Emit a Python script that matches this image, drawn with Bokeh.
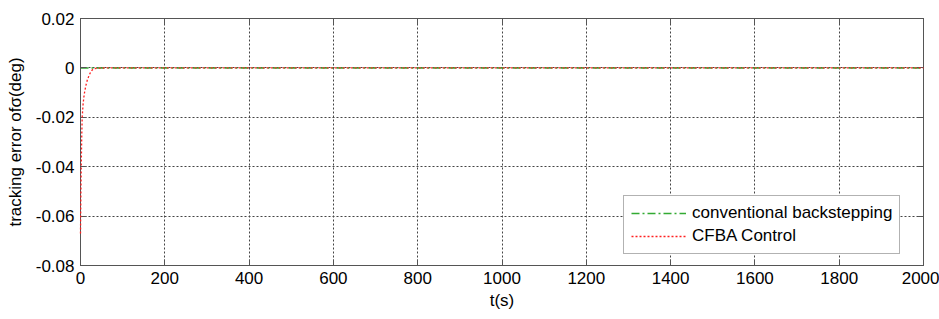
from bokeh.plotting import figure
from bokeh.models import FixedTicker, LinearAxis, Legend, LegendItem, Range1d
from bokeh.embed import file_html
from bokeh.resources import INLINE

# data
t_cfba = [0, 0.5, 1, 2, 3, 4, 6, 8, 10, 13, 16, 20, 24, 28, 32, 40, 60, 100, 2000]
e_cfba = [-0.067, -0.058, -0.05, -0.037, -0.027, -0.02, -0.015, -0.0118, -0.0095, -0.007,
          -0.005, -0.0032, -0.0017, -0.0008, -0.0003, -0.0001, 0.0, 0.0, 0.0]
t_conv = [0, 2000]
e_conv = [0.0, 0.0]

x_ticks = [0, 200, 400, 600, 800, 1000, 1200, 1400, 1600, 1800, 2000]
y_ticks = [-0.08, -0.06, -0.04, -0.02, 0, 0.02]
y_labels = ["-0.08", "-0.06", "-0.04", "-0.02", "0", "0.02"]

FONT = "Liberation Sans"
FS = "17px"

p = figure(width=939, height=319, output_backend="svg", toolbar_location=None,
           x_range=Range1d(0, 2000), y_range=Range1d(-0.08, 0.02),
           min_border_left=80, min_border_right=16, min_border_top=18, min_border_bottom=54)
p.background_fill_color = "white"
p.border_fill_color = "white"
p.outline_line_color = "#555555"
p.outline_line_width = 1

for ax in (p.xaxis[0], p.yaxis[0]):
    ax.major_label_text_font = FONT
    ax.major_label_text_font_size = FS
    ax.major_label_text_color = "black"
    ax.axis_label_text_font = FONT
    ax.axis_label_text_font_size = FS
    ax.axis_label_text_font_style = "normal"
    ax.axis_label_text_color = "black"
    ax.major_tick_in = 6
    ax.major_tick_out = 0
    ax.minor_tick_line_color = None
    ax.axis_line_color = "#555555"
    ax.major_tick_line_color = "#555555"

p.xaxis[0].ticker = FixedTicker(ticks=x_ticks)
p.yaxis[0].ticker = FixedTicker(ticks=y_ticks)
p.yaxis[0].major_label_overrides = {v: s for v, s in zip(y_ticks, y_labels)}
p.xaxis[0].axis_label = "t(s)"
p.yaxis[0].axis_label = "tracking error ofσ(deg)"
p.xaxis[0].major_label_standoff = 6
p.yaxis[0].major_label_standoff = 6
p.xaxis[0].axis_label_standoff = 4
p.yaxis[0].axis_label_standoff = 8

# ticks on top and right
top = LinearAxis(ticker=FixedTicker(ticks=x_ticks), major_label_text_font_size="0px",
                 major_tick_in=6, major_tick_out=0, minor_tick_line_color=None,
                 axis_line_color="#555555", major_tick_line_color="#555555")
right = LinearAxis(ticker=FixedTicker(ticks=y_ticks), major_label_text_font_size="0px",
                   major_tick_in=6, major_tick_out=0, minor_tick_line_color=None,
                   axis_line_color="#555555", major_tick_line_color="#555555")
top.major_label_text_color = None
right.major_label_text_color = None
p.add_layout(top, "above")
p.add_layout(right, "right")

p.xgrid.ticker = FixedTicker(ticks=x_ticks)
p.ygrid.ticker = FixedTicker(ticks=y_ticks)
for g in (p.xgrid[0], p.ygrid[0]):
    g.grid_line_color = "#444444"
    g.grid_line_dash = "2 2"
    g.grid_line_width = 1

r_conv = p.line(t_conv, e_conv, line_color="#33aa33", line_width=1.5, line_dash="8 3 2 3")
r_cfba = p.line(t_cfba, e_cfba, line_color="#ff2020", line_width=1.3, line_dash="2 2",
                level="overlay")

legend = Legend(items=[LegendItem(label="conventional backstepping", renderers=[r_conv]),
                       LegendItem(label="CFBA Control", renderers=[r_cfba])],
                location=(543, 11))
legend.label_text_font = FONT
legend.label_text_font_size = FS
legend.label_text_color = "black"
legend.label_standoff = 6
legend.glyph_width = 55
legend.glyph_height = 20
legend.label_height = 20
legend.spacing = 3
legend.padding = 7
legend.margin = 0
legend.border_line_color = "#666666"
legend.border_line_width = 1
legend.background_fill_alpha = 1
p.add_layout(legend, "center")

open("out.html", "w").write(file_html(p, INLINE))
